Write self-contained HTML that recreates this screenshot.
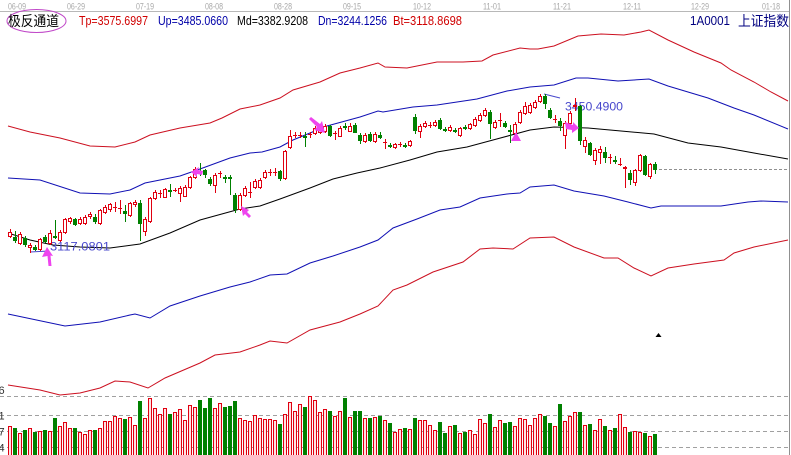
<!DOCTYPE html>
<html><head><meta charset="utf-8"><style>
html,body{margin:0;padding:0;background:#fff;}
svg{display:block;}
text{font-family:"Liberation Sans","Noto Sans CJK SC",sans-serif;}
</style></head><body>
<svg width="791" height="455" viewBox="0 0 791 455" xmlns="http://www.w3.org/2000/svg">
<rect width="791" height="455" fill="#fff"/>
<g font-size="9" fill="#a8a8a8">
<text x="8" y="9.5" textLength="18" lengthAdjust="spacingAndGlyphs">06-09</text>
<text x="67" y="9.5" textLength="18" lengthAdjust="spacingAndGlyphs">06-29</text>
<text x="136" y="9.5" textLength="18" lengthAdjust="spacingAndGlyphs">07-19</text>
<text x="205" y="9.5" textLength="18" lengthAdjust="spacingAndGlyphs">08-08</text>
<text x="274" y="9.5" textLength="18" lengthAdjust="spacingAndGlyphs">08-28</text>
<text x="343" y="9.5" textLength="18" lengthAdjust="spacingAndGlyphs">09-15</text>
<text x="413" y="9.5" textLength="18" lengthAdjust="spacingAndGlyphs">10-12</text>
<text x="483" y="9.5" textLength="18" lengthAdjust="spacingAndGlyphs">11-01</text>
<text x="553" y="9.5" textLength="18" lengthAdjust="spacingAndGlyphs">11-21</text>
<text x="623" y="9.5" textLength="18" lengthAdjust="spacingAndGlyphs">12-11</text>
<text x="691" y="9.5" textLength="18" lengthAdjust="spacingAndGlyphs">12-29</text>
<text x="762" y="9.5" textLength="18" lengthAdjust="spacingAndGlyphs">01-18</text>
</g>
<line x1="0" y1="11.5" x2="789" y2="11.5" stroke="#b8b8b8" stroke-width="1"/>
<line x1="789.5" y1="0" x2="789.5" y2="455" stroke="#909090" stroke-width="1"/>

<ellipse cx="36.5" cy="21" rx="29.5" ry="11.5" fill="none" stroke="#c048c8" stroke-width="1"/>
<text x="8" y="26" font-size="14" fill="#000" textLength="51" lengthAdjust="spacingAndGlyphs">极反通道</text>
<g font-size="13">
<text x="79" y="25" fill="#d00000" textLength="69" lengthAdjust="spacingAndGlyphs">Tp=3575.6997</text>
<text x="158" y="25" fill="#0000a8" textLength="70" lengthAdjust="spacingAndGlyphs">Up=3485.0660</text>
<text x="237" y="25" fill="#000" textLength="71" lengthAdjust="spacingAndGlyphs">Md=3382.9208</text>
<text x="318" y="25" fill="#0000a8" textLength="69" lengthAdjust="spacingAndGlyphs">Dn=3244.1256</text>
<text x="393" y="25" fill="#d00000" textLength="69" lengthAdjust="spacingAndGlyphs">Bt=3118.8698</text>
</g>
<text x="690" y="25" font-size="13" fill="#000080" font-family="Liberation Serif, serif" textLength="40" lengthAdjust="spacingAndGlyphs">1A0001</text>
<text x="738" y="26" font-size="14" fill="#000080" textLength="51" lengthAdjust="spacingAndGlyphs">上证指数</text>

<g fill="none" stroke-width="1">
<polyline stroke="#cc1020" points="8,126 30,132 60,138 90,146 115,147 135,142 150,135 180,128 210,123 222,118 240,109 260,105 280,98 293,90 320,82 340,73 360,68 378,63 385,67 407,68 437,62 463,62 482,61 493,55 520,48 530,49 538,49 554,46 578,36 601,34 624,35 641,32 649,30 668,40 694,52 721,63 731,70 754,82 771,92 788,101"/>
<polyline stroke="#1010b4" points="8,178 40,180 80,193 110,194 130,190 145,183 180,176 200,169 230,158 250,153 262,152 280,147 293,140 327,126 360,117 378,111 383,112 413,107 437,105 477,99 507,91 530,87 554,85 576,78 588,78 618,81 649,79 668,86 708,98 734,108 754,115 788,129"/>
<polyline stroke="#000" points="8,233 30,240 53,245 80,247 110,248 140,244 170,233 200,220 240,209 260,206 280,199 310,188 333,179 357,173 380,168 410,160 437,152 467,147 493,140 530,130 554,127 588,128 621,131 654,134 688,143 721,147 754,153 788,159"/>
<polyline stroke="#1010b4" points="8,314 65,326 100,322 130,315 135,314 150,318 170,306 200,296 230,287 250,282 270,275 287,274 310,263 333,256 360,247 378,240 393,228 417,219 440,210 460,207 480,198 507,194 520,193 530,187 554,185 574,191 604,196 628,202 651,208 661,206 721,206 748,202 761,201 788,202"/>
<polyline stroke="#cc1020" points="8,385 40,390 60,395 80,393 100,388 115,381 130,382 148,388 165,378 200,363 215,355 240,352 260,345 270,341 287,343 310,330 340,322 360,314 378,306 393,290 407,285 433,272 463,262 480,249 493,248 513,249 530,238 554,237 574,247 604,258 618,258 634,268 651,276 668,268 694,264 724,260 734,253 754,247 788,240"/>
</g>
<line x1="659" y1="169.5" x2="788" y2="169.5" stroke="#909090" stroke-dasharray="3,2"/>

<line x1="30" y1="252" x2="49" y2="251" stroke="#4848cc"/>
<text x="50" y="250.5" font-size="12" fill="#4848cc" textLength="60" lengthAdjust="spacingAndGlyphs">3117.0801</text>
<line x1="544" y1="94" x2="560" y2="98" stroke="#4848cc"/>
<text x="565" y="110.5" font-size="12" fill="#4848cc" textLength="58" lengthAdjust="spacingAndGlyphs">3450.4900</text>

<!-- wicks -->
<path fill="none" stroke="#e00010" stroke-width="1" d="M10.5 229V238M20.5 232V245M30.5 243V253M40.5 238V251M50.5 230V245M60.5 230V242M65.5 218V234M70.5 217V224M80.5 217V225M85.5 215V225M90.5 212V219M100.5 209V225M105.5 205V214M110.5 203V212M115.5 202V212M120.5 200V214M130.5 202V217M135.5 200V207M145.5 217V236M150.5 197V223M155.5 190V200M160.5 190V198M165.5 188V198M175.5 188V192M180.5 186V202M185.5 185V197M190.5 176V189M195.5 167V179M215.5 173V193M220.5 171V178M240.5 193V211M245.5 186V197M250.5 182V198M255.5 179V189M260.5 178V189M265.5 170V179M270.5 169V176M275.5 168V176M285.5 150V180M290.5 130V149M295.5 132V138M300.5 132V138M310.5 132V138M315.5 126V135M320.5 125V134M325.5 124V133M335.5 131V140M340.5 126V137M350.5 123V132M365.5 133V143M375.5 132V143M385.5 139V149M395.5 143V149M400.5 142V147M410.5 140V147M420.5 124V138M425.5 121V128M430.5 122V128M435.5 120V127M450.5 125V132M460.5 127V137M470.5 123V130M475.5 117V127M480.5 113V122M485.5 108V117M495.5 120V129M500.5 113V127M515.5 122V135M520.5 110V124M525.5 102V115M530.5 103V114M535.5 100V109M540.5 94V103M555.5 115V123M565.5 121V149M570.5 111V125M575.5 98V111M585.5 137V153M595.5 148V165M600.5 146V164M610.5 154V164M620.5 158V166M625.5 166V188M635.5 169V186M640.5 154V172M650.5 163V179"/>
<path fill="none" stroke="#008000" stroke-width="1" d="M15.5 231V243M25.5 236V247M35.5 245V251M45.5 235V243M55.5 220V239M75.5 218V226M95.5 214V224M125.5 205V222M140.5 200V241M170.5 184V197M200.5 163V176M205.5 169V178M210.5 177V186M225.5 175V183M230.5 175V195M235.5 193V213M280.5 170V181M305.5 132V147M330.5 125V137M345.5 123V130M355.5 123V133M360.5 133V144M370.5 132V142M380.5 132V139M390.5 143V148M405.5 143V148M415.5 114V134M440.5 118V130M445.5 127V132M455.5 128V133M465.5 125V130M490.5 110V139M505.5 121V128M510.5 125V143M545.5 94V109M550.5 108V119M560.5 118V131M580.5 105V145M590.5 142V156M605.5 147V163M615.5 156V164M630.5 170V185M645.5 155V176M655.5 162V174"/>
<g fill="#fff" stroke="#e00010" stroke-width="1">
<rect x="8.5" y="232.5" width="3" height="4"/><rect x="18.5" y="234.5" width="3" height="9"/><rect x="28.5" y="245.5" width="3" height="2"/><rect x="38.5" y="239.5" width="3" height="10"/><rect x="48.5" y="233.5" width="3" height="10"/><rect x="58.5" y="232.5" width="3" height="8"/><rect x="63.5" y="219.5" width="3" height="13"/><rect x="68.5" y="218.5" width="3" height="3"/><rect x="78.5" y="219.5" width="3" height="4"/><rect x="83.5" y="217.5" width="3" height="6"/><rect x="88.5" y="214.5" width="3" height="2"/><rect x="98.5" y="210.5" width="3" height="13"/><rect x="103.5" y="207.5" width="3" height="5"/><rect x="108.5" y="204.5" width="3" height="5"/><rect x="128.5" y="203.5" width="3" height="12"/><rect x="133.5" y="202.5" width="3" height="2"/><rect x="143.5" y="219.5" width="3" height="12"/><rect x="148.5" y="198.5" width="3" height="23"/><rect x="153.5" y="192.5" width="3" height="6"/><rect x="163.5" y="189.5" width="3" height="8"/><rect x="178.5" y="188.5" width="3" height="5"/><rect x="183.5" y="187.5" width="3" height="9"/><rect x="188.5" y="177.5" width="3" height="10"/><rect x="193.5" y="169.5" width="3" height="8"/><rect x="213.5" y="175.5" width="3" height="10"/><rect x="238.5" y="195.5" width="3" height="14"/><rect x="243.5" y="188.5" width="3" height="7"/><rect x="253.5" y="181.5" width="3" height="6"/><rect x="258.5" y="180.5" width="3" height="7"/><rect x="263.5" y="172.5" width="3" height="5"/><rect x="283.5" y="151.5" width="3" height="27"/><rect x="288.5" y="136.5" width="3" height="11"/><rect x="313.5" y="128.5" width="3" height="5"/><rect x="318.5" y="127.5" width="3" height="5"/><rect x="323.5" y="126.5" width="3" height="5"/><rect x="338.5" y="128.5" width="3" height="8"/><rect x="348.5" y="126.5" width="3" height="5"/><rect x="363.5" y="135.5" width="3" height="6"/><rect x="373.5" y="134.5" width="3" height="7"/><rect x="393.5" y="144.5" width="3" height="3"/><rect x="408.5" y="141.5" width="3" height="4"/><rect x="418.5" y="126.5" width="3" height="5"/><rect x="423.5" y="123.5" width="3" height="3"/><rect x="433.5" y="122.5" width="3" height="3"/><rect x="448.5" y="127.5" width="3" height="3"/><rect x="458.5" y="128.5" width="3" height="7"/><rect x="468.5" y="124.5" width="3" height="4"/><rect x="473.5" y="119.5" width="3" height="6"/><rect x="478.5" y="115.5" width="3" height="5"/><rect x="483.5" y="110.5" width="3" height="5"/><rect x="493.5" y="122.5" width="3" height="5"/><rect x="513.5" y="124.5" width="3" height="9"/><rect x="518.5" y="112.5" width="3" height="10"/><rect x="523.5" y="106.5" width="3" height="7"/><rect x="528.5" y="105.5" width="3" height="7"/><rect x="533.5" y="102.5" width="3" height="5"/><rect x="538.5" y="96.5" width="3" height="5"/><rect x="563.5" y="123.5" width="3" height="12"/><rect x="568.5" y="113.5" width="3" height="10"/><rect x="573.5" y="105.5" width="3" height="1"/><rect x="583.5" y="140.5" width="3" height="6"/><rect x="593.5" y="150.5" width="3" height="10"/><rect x="598.5" y="149.5" width="3" height="3"/><rect x="623.5" y="167.5" width="3" height="1"/><rect x="633.5" y="170.5" width="3" height="12"/><rect x="638.5" y="155.5" width="3" height="15"/><rect x="648.5" y="164.5" width="3" height="12"/>
</g>
<path fill="none" stroke="#e00010" stroke-width="1" d="M113 207.5h4M118 208.5h4M158 193.5h4M173 190.5h4M218 173.5h4M248 192.5h4M268 172.5h4M273 172.5h4M293 135.5h4M298 135.5h4M308 134.5h4M333 133.5h4M383 142.5h4M398 144.5h4M428 125.5h4M498 120.5h4M553 119.5h4M608 157.5h4M618 164.5h4"/>
<g fill="#008000">
<rect x="13" y="237" width="4" height="4"/><rect x="23" y="238" width="4" height="7"/><rect x="33" y="247" width="4" height="3"/><rect x="43" y="237" width="4" height="5"/><rect x="53" y="236" width="4" height="2"/><rect x="73" y="219" width="4" height="6"/><rect x="93" y="217" width="4" height="5"/><rect x="123" y="211" width="4" height="3"/><rect x="138" y="203" width="4" height="21"/><rect x="168" y="190" width="4" height="2"/><rect x="198" y="172" width="4" height="2"/><rect x="203" y="170" width="4" height="5"/><rect x="208" y="179" width="4" height="5"/><rect x="223" y="177" width="4" height="2"/><rect x="228" y="177" width="4" height="2"/><rect x="233" y="195" width="4" height="15"/><rect x="278" y="171" width="4" height="8"/><rect x="303" y="136" width="4" height="2"/><rect x="328" y="126" width="4" height="10"/><rect x="343" y="126" width="4" height="2"/><rect x="353" y="125" width="4" height="8"/><rect x="358" y="135" width="4" height="6"/><rect x="368" y="134" width="4" height="7"/><rect x="378" y="135" width="4" height="3"/><rect x="388" y="145" width="4" height="2"/><rect x="403" y="145" width="4" height="2"/><rect x="413" y="117" width="4" height="14"/><rect x="438" y="120" width="4" height="9"/><rect x="443" y="129" width="4" height="2"/><rect x="453" y="130" width="4" height="2"/><rect x="463" y="127" width="4" height="2"/><rect x="488" y="112" width="4" height="12"/><rect x="503" y="123" width="4" height="4"/><rect x="508" y="130" width="4" height="2"/><rect x="543" y="96" width="4" height="8"/><rect x="548" y="110" width="4" height="8"/><rect x="558" y="121" width="4" height="5"/><rect x="578" y="106" width="4" height="35"/><rect x="588" y="143" width="4" height="12"/><rect x="603" y="152" width="4" height="6"/><rect x="613" y="160" width="4" height="2"/><rect x="628" y="173" width="4" height="7"/><rect x="643" y="156" width="4" height="19"/><rect x="653" y="164" width="4" height="6"/>
</g>

<g fill="#ee44ee">
<polygon points="47,247 53,256 50.5,255.5 51.5,266 48.5,266 47.5,256 42,257"/>
<polygon points="191,172 199,167 198,170 203,171 202,175 197,174 197,177"/>
<polygon points="241,206 249,210 247,212 251,216 249,218 245,214 243,216"/>
<polygon points="311,117 320,124 322,121 325,133 314,130 317,127 309,119"/>
<polygon points="516,132 521,141 511,141"/>
<polygon points="565,122 573,125 573,122 579,128 572,133 572,130 566,129"/>
</g>
<polygon points="658.5,333 661.5,337 655.5,337" fill="#000"/>

<g stroke="#a0a0a0" stroke-width="1" stroke-dasharray="4,3">
<line x1="0" y1="396.5" x2="788" y2="396.5"/>
<line x1="0" y1="415.5" x2="788" y2="415.5"/>
<line x1="0" y1="431.5" x2="788" y2="431.5"/>
<line x1="0" y1="447.5" x2="788" y2="447.5"/>
</g>
<g font-size="11" fill="#333">
<text x="-1.5" y="394">6</text>
<text x="-1.5" y="419.5">1</text>
<text x="-1.5" y="435.5">7</text>
<text x="-1.5" y="451.5">4</text>
</g>
<g fill="#fde2e2" stroke="#e00010" stroke-width="1">
<rect x="8.5" y="426.5" width="3" height="29"/><rect x="18.5" y="433.5" width="3" height="22"/><rect x="28.5" y="428.5" width="3" height="27"/><rect x="38.5" y="431.5" width="3" height="24"/><rect x="48.5" y="431.5" width="3" height="24"/><rect x="58.5" y="426.5" width="3" height="29"/><rect x="63.5" y="422.5" width="3" height="33"/><rect x="68.5" y="428.5" width="3" height="27"/><rect x="78.5" y="432.5" width="3" height="23"/><rect x="83.5" y="434.5" width="3" height="21"/><rect x="88.5" y="430.5" width="3" height="25"/><rect x="98.5" y="428.5" width="3" height="27"/><rect x="103.5" y="421.5" width="3" height="34"/><rect x="108.5" y="421.5" width="3" height="34"/><rect x="113.5" y="416.5" width="3" height="39"/><rect x="118.5" y="418.5" width="3" height="37"/><rect x="128.5" y="417.5" width="3" height="38"/><rect x="133.5" y="425.5" width="3" height="30"/><rect x="143.5" y="418.5" width="3" height="37"/><rect x="148.5" y="398.5" width="3" height="57"/><rect x="153.5" y="408.5" width="3" height="47"/><rect x="158.5" y="414.5" width="3" height="41"/><rect x="163.5" y="408.5" width="3" height="47"/><rect x="173.5" y="412.5" width="3" height="43"/><rect x="178.5" y="409.5" width="3" height="46"/><rect x="183.5" y="420.5" width="3" height="35"/><rect x="188.5" y="405.5" width="3" height="50"/><rect x="193.5" y="407.5" width="3" height="48"/><rect x="213.5" y="408.5" width="3" height="47"/><rect x="218.5" y="403.5" width="3" height="52"/><rect x="238.5" y="418.5" width="3" height="37"/><rect x="243.5" y="420.5" width="3" height="35"/><rect x="248.5" y="421.5" width="3" height="34"/><rect x="253.5" y="415.5" width="3" height="40"/><rect x="258.5" y="418.5" width="3" height="37"/><rect x="263.5" y="419.5" width="3" height="36"/><rect x="268.5" y="419.5" width="3" height="36"/><rect x="273.5" y="420.5" width="3" height="35"/><rect x="283.5" y="414.5" width="3" height="41"/><rect x="288.5" y="402.5" width="3" height="53"/><rect x="293.5" y="411.5" width="3" height="44"/><rect x="298.5" y="404.5" width="3" height="51"/><rect x="308.5" y="396.5" width="3" height="59"/><rect x="313.5" y="400.5" width="3" height="55"/><rect x="318.5" y="412.5" width="3" height="43"/><rect x="323.5" y="409.5" width="3" height="46"/><rect x="333.5" y="416.5" width="3" height="39"/><rect x="338.5" y="411.5" width="3" height="44"/><rect x="348.5" y="417.5" width="3" height="38"/><rect x="363.5" y="418.5" width="3" height="37"/><rect x="373.5" y="417.5" width="3" height="38"/><rect x="383.5" y="420.5" width="3" height="35"/><rect x="393.5" y="432.5" width="3" height="23"/><rect x="398.5" y="429.5" width="3" height="26"/><rect x="408.5" y="429.5" width="3" height="26"/><rect x="418.5" y="420.5" width="3" height="35"/><rect x="423.5" y="420.5" width="3" height="35"/><rect x="428.5" y="425.5" width="3" height="30"/><rect x="433.5" y="430.5" width="3" height="25"/><rect x="448.5" y="426.5" width="3" height="29"/><rect x="458.5" y="433.5" width="3" height="22"/><rect x="468.5" y="430.5" width="3" height="25"/><rect x="473.5" y="434.5" width="3" height="21"/><rect x="478.5" y="419.5" width="3" height="36"/><rect x="483.5" y="423.5" width="3" height="32"/><rect x="493.5" y="427.5" width="3" height="28"/><rect x="498.5" y="420.5" width="3" height="35"/><rect x="513.5" y="426.5" width="3" height="29"/><rect x="518.5" y="418.5" width="3" height="37"/><rect x="523.5" y="419.5" width="3" height="36"/><rect x="528.5" y="425.5" width="3" height="30"/><rect x="533.5" y="418.5" width="3" height="37"/><rect x="538.5" y="414.5" width="3" height="41"/><rect x="553.5" y="426.5" width="3" height="29"/><rect x="563.5" y="421.5" width="3" height="34"/><rect x="568.5" y="416.5" width="3" height="39"/><rect x="573.5" y="412.5" width="3" height="43"/><rect x="583.5" y="425.5" width="3" height="30"/><rect x="593.5" y="430.5" width="3" height="25"/><rect x="598.5" y="419.5" width="3" height="36"/><rect x="608.5" y="430.5" width="3" height="25"/><rect x="618.5" y="414.5" width="3" height="41"/><rect x="623.5" y="427.5" width="3" height="28"/><rect x="633.5" y="431.5" width="3" height="24"/><rect x="638.5" y="432.5" width="3" height="23"/><rect x="648.5" y="436.5" width="3" height="19"/>
</g>
<g fill="#008000">
<rect x="13" y="428" width="4" height="27"/><rect x="23" y="430" width="4" height="25"/><rect x="33" y="432" width="4" height="23"/><rect x="43" y="430" width="4" height="25"/><rect x="53" y="418" width="4" height="37"/><rect x="73" y="428" width="4" height="27"/><rect x="93" y="430" width="4" height="25"/><rect x="123" y="419" width="4" height="36"/><rect x="138" y="401" width="4" height="54"/><rect x="168" y="414" width="4" height="41"/><rect x="198" y="400" width="4" height="55"/><rect x="203" y="408" width="4" height="47"/><rect x="208" y="398" width="4" height="57"/><rect x="223" y="407" width="4" height="48"/><rect x="228" y="406" width="4" height="49"/><rect x="233" y="401" width="4" height="54"/><rect x="278" y="424" width="4" height="31"/><rect x="303" y="407" width="4" height="48"/><rect x="328" y="411" width="4" height="44"/><rect x="343" y="398" width="4" height="57"/><rect x="353" y="411" width="4" height="44"/><rect x="358" y="411" width="4" height="44"/><rect x="368" y="418" width="4" height="37"/><rect x="378" y="416" width="4" height="39"/><rect x="388" y="423" width="4" height="32"/><rect x="403" y="428" width="4" height="27"/><rect x="413" y="418" width="4" height="37"/><rect x="438" y="422" width="4" height="33"/><rect x="443" y="433" width="4" height="22"/><rect x="453" y="425" width="4" height="30"/><rect x="463" y="432" width="4" height="23"/><rect x="488" y="414" width="4" height="41"/><rect x="503" y="423" width="4" height="32"/><rect x="508" y="422" width="4" height="33"/><rect x="543" y="416" width="4" height="39"/><rect x="548" y="423" width="4" height="32"/><rect x="558" y="404" width="4" height="51"/><rect x="578" y="412" width="4" height="43"/><rect x="588" y="424" width="4" height="31"/><rect x="603" y="426" width="4" height="29"/><rect x="613" y="428" width="4" height="27"/><rect x="628" y="432" width="4" height="23"/><rect x="643" y="433" width="4" height="22"/><rect x="653" y="434" width="4" height="21"/>
</g>
</svg>
</body></html>
